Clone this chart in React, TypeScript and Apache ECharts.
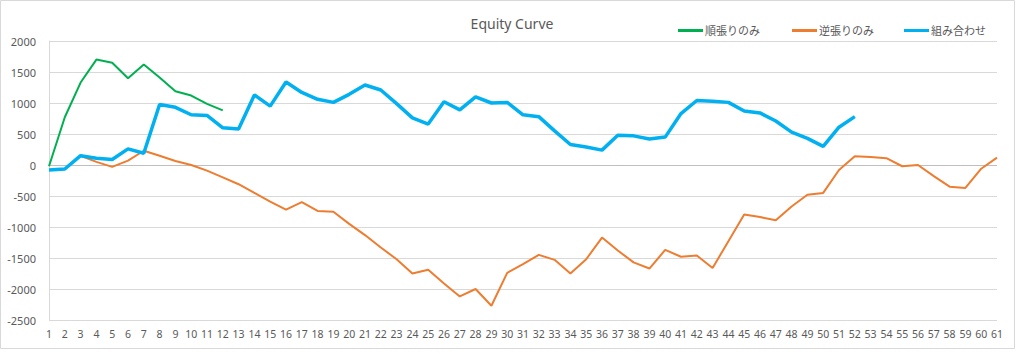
import React, { useEffect, useRef } from "react";
import * as echarts from "echarts";

const categories: string[] = Array.from({ length: 61 }, (_, i) => String(i + 1));

const trendOnly: (number | null)[] = [
  -20, 770, 1330, 1700, 1650, 1400, 1620, 1410, 1190, 1120, 985, 880,
];

const counterOnly: (number | null)[] = [
  -80, -65, 150, 50, -30, 70, 230, 150, 65, 0,
  -90, -200, -310, -450, -590, -720, -600, -740, -755, -950,
  -1130, -1330, -1520, -1750, -1690, -1910, -2120, -2000, -2270, -1740,
  -1600, -1450, -1530, -1750, -1520, -1170, -1380, -1570, -1670, -1370,
  -1480, -1460, -1660, -1230, -800, -840, -890, -670, -480, -450,
  -80, 140, 130, 110, -20, 0, -180, -350, -370, -60,
  120,
];

const combined: (number | null)[] = [
  -80, -65, 150, 110, 90, 260, 190, 975, 930, 810,
  800, 600, 580, 1130, 950, 1340, 1170, 1060, 1010, 1140,
  1290, 1210, 990, 760, 660, 1020, 890, 1100, 1000, 1010,
  810, 780, 550, 330, 290, 240, 480, 470, 420, 450,
  830, 1040, 1030, 1010, 870, 840, 710, 530, 430, 300,
  610, 780,
];

const yTicks: number[] = [-2500, -2000, -1500, -1000, -500, 0, 500, 1000, 1500, 2000];

const seriesNames = ["順張りのみ", "逆張りのみ", "組み合わせ"];
const colors = ["#00B050", "#ED7D31", "#00B0F0"];

export default function App() {
  const ref = useRef<HTMLDivElement>(null);

  useEffect(() => {
    document.body.style.margin = "0";
    if (!ref.current) return;
    const chart = echarts.init(ref.current, null, { renderer: "svg" });
    const font = "'Noto Sans', 'Noto Sans CJK JP', sans-serif";
    const splitColors = yTicks.map((v) => (v === 0 ? "#BFBFBF" : "#D9D9D9"));
    const legendLefts = [673, 787, 899];
    chart.setOption({
      animation: false,
      backgroundColor: "#ffffff",
      textStyle: { fontFamily: font },
      title: {
        text: "Equity Curve",
        left: "center",
        top: 11,
        textStyle: { fontFamily: font, fontSize: 14, fontWeight: "normal", color: "#595959" },
      },
      legend: seriesNames.map((n, i) => ({
        data: [n],
        left: legendLefts[i],
        top: 20,
        icon: "rect",
        itemWidth: 25,
        itemHeight: 3,
        itemGap: 0,
        textStyle: { fontFamily: font, fontSize: 11, color: "#595959", padding: [0, 0, 0, -3] },
      })),
      graphic: [
        {
          type: "rect",
          shape: { x: 0.5, y: 0.5, width: 1014, height: 348 },
          style: { fill: "none", stroke: "#D9D9D9", lineWidth: 1 },
          silent: true,
        },
      ],
      grid: { left: 49, right: 27, top: 41, bottom: 33, containLabel: false },
      xAxis: {
        type: "category",
        data: categories,
        boundaryGap: false,
        axisLine: { show: false },
        axisTick: { show: false },
        splitLine: { show: false },
        axisLabel: { interval: 0, fontSize: 10.5, color: "#595959", margin: 9, fontFamily: font },
      },
      yAxis: {
        type: "value",
        min: -2500,
        max: 2000,
        interval: 500,
        axisLine: { show: true, lineStyle: { color: "#D9D9D9" } },
        axisTick: { show: false },
        axisLabel: {
          fontSize: 11,
          color: "#595959",
          margin: 13,
          fontFamily: font,
          formatter: (v: number) => String(v),
        },
        splitLine: { show: true, lineStyle: { color: splitColors, width: 1 } },
      },
      series: [
        {
          name: seriesNames[0],
          type: "line",
          data: trendOnly,
          showSymbol: false,
          symbol: "none",
          lineStyle: { color: colors[0], width: 2 },
          itemStyle: { color: colors[0] },
        },
        {
          name: seriesNames[1],
          type: "line",
          data: counterOnly,
          showSymbol: false,
          symbol: "none",
          lineStyle: { color: colors[1], width: 2 },
          itemStyle: { color: colors[1] },
        },
        {
          name: seriesNames[2],
          type: "line",
          data: combined,
          showSymbol: false,
          symbol: "none",
          lineStyle: { color: colors[2], width: 3.5 },
          itemStyle: { color: colors[2] },
        },
      ],
    });
    return () => chart.dispose();
  }, []);

  return <div ref={ref} style={{ width: 1024, height: 353 }} />;
}
